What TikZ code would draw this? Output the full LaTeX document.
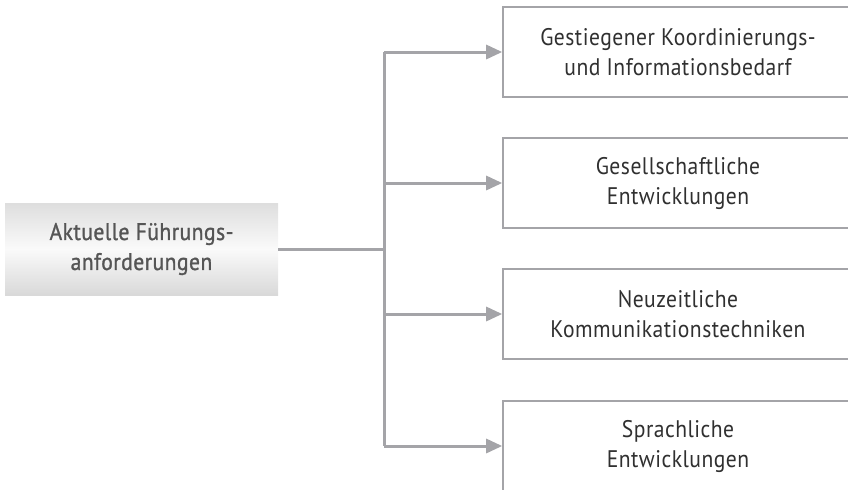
\documentclass[tikz,border=0pt]{standalone}
\usepackage{fontspec}
\setmainfont{PT Sans}[FakeStretch=0.9, LetterSpace=2]
\newfontfamily\leadfont{PT Sans}[FakeStretch=0.9, LetterSpace=2, FakeBold=1.2]
\usetikzlibrary{arrows.meta}
\definecolor{linegray}{HTML}{A4A4A8}
\definecolor{textgray}{HTML}{303030}
\definecolor{leadgray}{HTML}{555555}
\tikzset{
	target/.style={draw=linegray, line width=0.8pt, fill=white, minimum width=175pt, minimum height=45pt, align=center, text=textgray, font=\fontsize{12}{15}\selectfont},
	lead/.style={minimum width=136.5pt, minimum height=46pt, align=center, text=leadgray, top color=black!13, bottom color=black!15, middle color=black!2, font=\leadfont\fontsize{12}{15}\selectfont},
	conn/.style={draw=linegray, line width=1.5pt}
}

\begin{document}
\begin{tikzpicture}[x=0.5pt, y=-0.5pt]
			%%%%% START %%%%%
			\useasboundingbox (0, 0) rectangle (848, 489);
			\clip (0, 0) rectangle (848, 489);
			
			\node[lead] (lead) at (141.5, 249) {Aktuelle Führungs-\\anforderungen};
			
			\node[target] (box1) at (678, 52) {Gestiegener Koordinierungs-\\und Informationsbedarf};
			\node[target] (box2) at (678, 183) {Gesellschaftliche\\Entwicklungen};
			\node[target] (box3) at (678, 314) {Neuzeitliche\\Kommunikationstechniken};
			\node[target] (box4) at (678, 446) {Sprachliche\\Entwicklungen};
			
			\coordinate (split) at (384, 0);
			\draw[conn] (lead.east) -- (split |- lead.east);
			\draw[conn] (split |- box1.west) -- (split |- box4.west);
			\foreach \b in {box1, box2, box3, box4}
				\draw[conn, -{Triangle[length=8pt, width=7pt]}] (split |- \b.west) -- (\b.west);
			%%%%% END %%%%%
\end{tikzpicture}
\end{document}
